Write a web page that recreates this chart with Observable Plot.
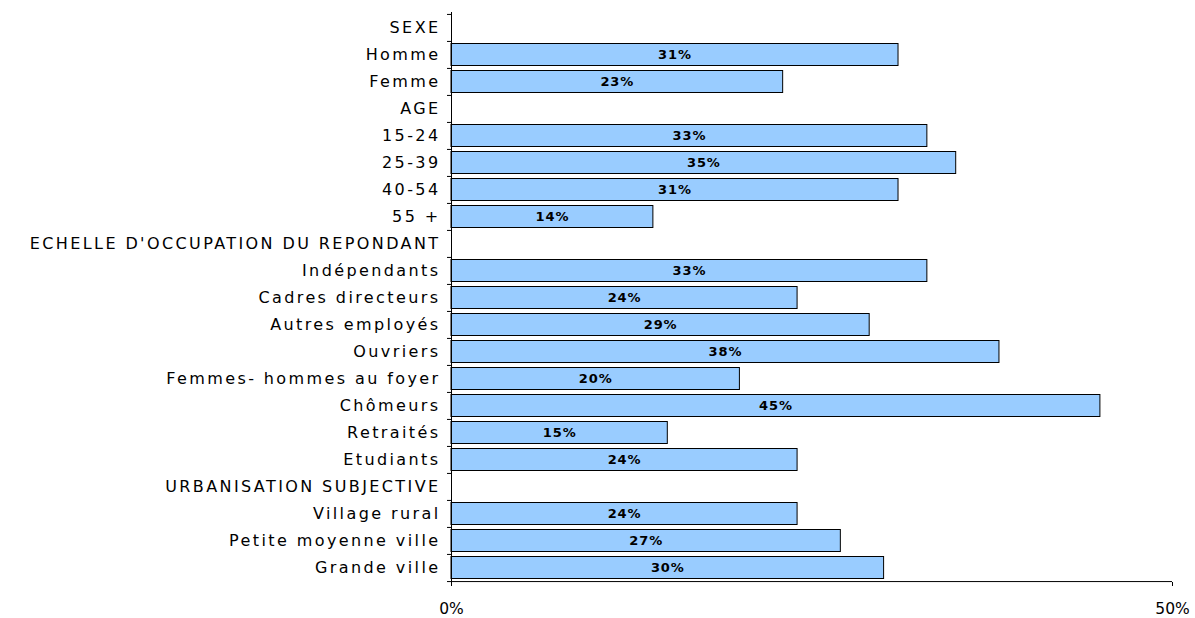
<!DOCTYPE html>
<html>
<head>
<meta charset="utf-8">
<script src="https://cdn.jsdelivr.net/npm/d3@7"></script>
<script src="https://cdn.jsdelivr.net/npm/@observablehq/plot@0.6"></script>
<style>
  html, body { margin: 0; padding: 0; background: #fff; }
  #chart svg { display: block; }
  #chart svg text { font-family: "DejaVu Sans", Verdana, sans-serif; fill: #000; }
  #chart [aria-label="y-axis tick label"] text { letter-spacing: 2.4px; }
  #chart .barlabel text { letter-spacing: 0.9px; }
</style>
</head>
<body>
<div id="chart"></div>
<script>
// Categories (top to bottom), including section headers
const categories = [
  "SEXE", "Homme", "Femme",
  "AGE", "15-24", "25-39", "40-54", "55 +",
  "ECHELLE D'OCCUPATION DU REPONDANT",
  "Indépendants", "Cadres directeurs", "Autres employés", "Ouvriers",
  "Femmes- hommes au foyer", "Chômeurs", "Retraités", "Etudiants",
  "URBANISATION SUBJECTIVE",
  "Village rural", "Petite moyenne ville", "Grande ville"
];
// Values in percent (null for section headers)
const values = [
  null, 31, 23,
  null, 33, 35, 31, 14,
  null,
  33, 24, 29, 38, 20, 45, 15, 24,
  null,
  24, 27, 30
];
const xTicks = [0, 50];

const data = categories.map((c, i) => ({label: c, value: values[i]})).filter(d => d.value != null);

const W = 1195, H = 618;
const mTop = 12, mBottom = 36, mLeft = 451, mRight = 23;
const step = (H - mTop - mBottom) / categories.length;
const tickLen = 4 / ((W - mLeft - mRight) / 50); // 4px in data units

const chart = Plot.plot({
  width: W,
  height: H,
  marginTop: mTop,
  marginBottom: mBottom,
  marginLeft: mLeft,
  marginRight: mRight,
  style: {fontFamily: "DejaVu Sans, Verdana, sans-serif", color: "#000", background: "#fff"},
  x: {domain: [0, 50]},
  y: {domain: categories, padding: 0},
  marks: [
    Plot.axisX({ticks: xTicks, tickFormat: d => d + "%", tickSize: 4, tickPadding: 16, fontSize: 15.5, stroke: "#000", label: null}),
    Plot.axisY({tickSize: 0, tickPadding: 11, fontSize: 16, label: null}),
    Plot.barX(data, {x: "value", y: "label", fill: "#99CCFF", stroke: "#000", strokeWidth: 1, insetTop: 2.5, insetBottom: 2.5}),
    Plot.text(data, {x: d => d.value / 2, y: "label", text: d => d.value + "%", fontWeight: "bold", fontSize: 13, className: "barlabel"}),
    Plot.ruleX([0], {stroke: "#000", strokeWidth: 1}),
    Plot.ruleY(categories, {y: d => d, x1: -tickLen, x2: 0, dy: -step / 2, stroke: "#000"}),
    Plot.ruleY([categories[categories.length - 1]], {y: d => d, x1: -tickLen, x2: 0, dy: step / 2, stroke: "#000"}),
    Plot.ruleY([categories[categories.length - 1]], {y: d => d, x1: 0, x2: 50, dy: step / 2, stroke: "#000"})
  ]
});
document.getElementById("chart").appendChild(chart);
</script>
</body>
</html>
